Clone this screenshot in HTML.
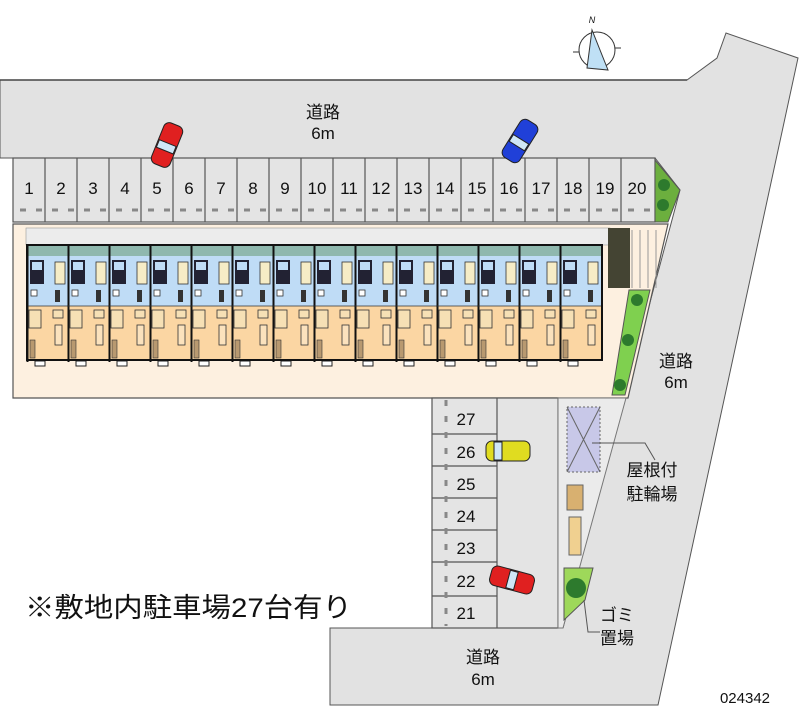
<!DOCTYPE html>
<html><head><meta charset="utf-8"><style>
html,body{margin:0;padding:0;background:#fff}
svg{display:block}
text{font-family:"Liberation Sans","Noto Sans CJK JP",sans-serif;fill:#111}
</style></head><body>
<svg width="800" height="727" viewBox="0 0 800 727" xmlns="http://www.w3.org/2000/svg">
<defs>
<g id="u">
  <rect x="0" y="245" width="41" height="11" fill="#8fb8ae"/>
  <rect x="0" y="256" width="41" height="50" fill="#bfdcf6"/>
  <rect x="0" y="306" width="41" height="54" fill="#fbd6a3"/>
  <rect x="3" y="260" width="14" height="24" fill="#223"/>
  <rect x="5" y="262" width="10" height="8" fill="#bfdcf6"/>
  <rect x="28" y="262" width="10" height="22" fill="#f6ecc6" stroke="#333" stroke-width="0.8"/>
  <rect x="4" y="290" width="6" height="6" fill="#fff" stroke="#333" stroke-width="0.8"/>
  <rect x="28" y="290" width="5" height="12" fill="#333"/>
  <rect x="2" y="310" width="12" height="18" fill="#f6e0b5" stroke="#333" stroke-width="0.8"/>
  <rect x="26" y="310" width="10" height="8" fill="#f6e0b5" stroke="#333" stroke-width="0.8"/>
  <rect x="28" y="325" width="7" height="20" fill="#fbe2bd" stroke="#333" stroke-width="0.8"/>
  <rect x="3" y="340" width="5" height="18" fill="#b89970" stroke="#333" stroke-width="0.6"/>
  <rect x="8" y="361" width="10" height="5" fill="#fff" stroke="#222" stroke-width="1"/>
  <line x1="0.5" y1="245" x2="0.5" y2="362" stroke="#111" stroke-width="2"/>
  <line x1="0" y1="306" x2="41" y2="306" stroke="#333" stroke-width="0.8"/>
</g>
<g id="car">
  <rect x="-22" y="-10" width="44" height="20" rx="6"/>
</g>
</defs>

<!-- roads -->
<polygon points="0,80 687,80 717,58 726,33 798,58 658,705 330,705 330,628 563,628 680,190 655,158 13,158 0,158" fill="#e2e2e2" stroke="#555" stroke-width="1"/>
<line x1="0" y1="80" x2="687" y2="80" stroke="#444" stroke-width="1.5"/>

<!-- upper parking -->
<rect x="13" y="158" width="642" height="64" fill="#e4e4e4" stroke="#555" stroke-width="1.2"/>
<g stroke="#555" stroke-width="1.2">
<line x1="45" y1="158" x2="45" y2="222"/><line x1="77" y1="158" x2="77" y2="222"/><line x1="109" y1="158" x2="109" y2="222"/><line x1="141" y1="158" x2="141" y2="222"/><line x1="173" y1="158" x2="173" y2="222"/><line x1="205" y1="158" x2="205" y2="222"/><line x1="237" y1="158" x2="237" y2="222"/><line x1="269" y1="158" x2="269" y2="222"/><line x1="301" y1="158" x2="301" y2="222"/><line x1="333" y1="158" x2="333" y2="222"/><line x1="365" y1="158" x2="365" y2="222"/><line x1="397" y1="158" x2="397" y2="222"/><line x1="429" y1="158" x2="429" y2="222"/><line x1="461" y1="158" x2="461" y2="222"/><line x1="493" y1="158" x2="493" y2="222"/><line x1="525" y1="158" x2="525" y2="222"/><line x1="557" y1="158" x2="557" y2="222"/><line x1="589" y1="158" x2="589" y2="222"/><line x1="621" y1="158" x2="621" y2="222"/>
</g>
<line x1="20" y1="210" x2="650" y2="210" stroke="#888" stroke-width="3" stroke-dasharray="6,10"/>
<g font-size="17" text-anchor="middle">
<text x="29" y="194">1</text><text x="61" y="194">2</text><text x="93" y="194">3</text><text x="125" y="194">4</text><text x="157" y="194">5</text><text x="189" y="194">6</text><text x="221" y="194">7</text><text x="253" y="194">8</text><text x="285" y="194">9</text><text x="317" y="194">10</text><text x="349" y="194">11</text><text x="381" y="194">12</text><text x="413" y="194">13</text><text x="445" y="194">14</text><text x="477" y="194">15</text><text x="509" y="194">16</text><text x="541" y="194">17</text><text x="573" y="194">18</text><text x="605" y="194">19</text><text x="637" y="194">20</text>
</g>
<polygon points="655,160 680,190 668,222 655,222" fill="#6caf3e" stroke="#555"/>
<circle cx="664" cy="185" r="6" fill="#2d7a2d"/><circle cx="663" cy="205" r="6" fill="#2d7a2d"/>

<!-- building lot -->
<polygon points="13,224 668,224 628,398 13,398" fill="#fdf0e0" stroke="#555" stroke-width="1.2"/>
<rect x="26" y="228" width="584" height="17" fill="#ececec" stroke="#999" stroke-width="0.6"/>
<rect x="608" y="228" width="22" height="60" fill="#443"/>
<g stroke="#999"><line x1="632" y1="230" x2="632" y2="288"/><line x1="640" y1="230" x2="640" y2="288"/><line x1="648" y1="230" x2="648" y2="288"/><line x1="656" y1="230" x2="656" y2="288"/></g>
<g>
<use href="#u" x="27"/><use href="#u" x="68"/><use href="#u" x="109"/><use href="#u" x="150"/><use href="#u" x="191"/><use href="#u" x="232"/><use href="#u" x="273"/><use href="#u" x="314"/><use href="#u" x="355"/><use href="#u" x="396"/><use href="#u" x="437"/><use href="#u" x="478"/><use href="#u" x="519"/><use href="#u" x="560"/>
</g>
<rect x="27" y="245" width="575" height="115" fill="none" stroke="#111" stroke-width="2"/>
<polygon points="629,290 650,290 625,395 612,395" fill="#7fd04f" stroke="#555"/>
<circle cx="637" cy="300" r="6" fill="#2d7a2d"/><circle cx="628" cy="340" r="6" fill="#2d7a2d"/><circle cx="620" cy="385" r="6" fill="#2d7a2d"/>

<!-- lower parking -->
<rect x="432" y="398" width="126" height="230" fill="#e4e4e4" stroke="#555" stroke-width="1.2"/>
<line x1="497" y1="398" x2="497" y2="628" stroke="#555" stroke-width="1.2"/>
<g stroke="#555" stroke-width="1.2">
<line x1="432" y1="434" x2="497" y2="434"/><line x1="432" y1="466" x2="497" y2="466"/><line x1="432" y1="498" x2="497" y2="498"/><line x1="432" y1="530" x2="497" y2="530"/><line x1="432" y1="562" x2="497" y2="562"/><line x1="432" y1="596" x2="497" y2="596"/>
</g>
<line x1="446" y1="400" x2="446" y2="626" stroke="#888" stroke-width="3" stroke-dasharray="6,10"/>
<g font-size="17" text-anchor="middle">
<text x="466" y="425">27</text><text x="466" y="458">26</text><text x="466" y="490">25</text><text x="466" y="522">24</text><text x="466" y="554">23</text><text x="466" y="587">22</text><text x="466" y="619">21</text>
</g>
<polygon points="558,398 626,398 563,628 558,628" fill="#ebebeb" stroke="#777"/>
<rect x="567" y="407" width="33" height="65" fill="#c8c8e8" stroke="#666" stroke-dasharray="2,2"/>
<line x1="567" y1="407" x2="600" y2="472" stroke="#666"/><line x1="600" y1="407" x2="567" y2="472" stroke="#666"/>
<rect x="567" y="485" width="16" height="25" fill="#d8b070" stroke="#666"/>
<rect x="569" y="517" width="12" height="38" fill="#f0d090" stroke="#666"/>
<polygon points="564,568 593,568 585,600 564,620" fill="#9ed85a" stroke="#555"/>
<circle cx="576" cy="588" r="10" fill="#2d7a2d"/>

<!-- leader lines -->
<polyline points="592,443 645,443 655,460" fill="none" stroke="#555"/>
<polyline points="584,600 588,632 600,632" fill="none" stroke="#555"/>

<!-- cars -->
<g transform="translate(167,145) rotate(-68)" fill="#e02020" stroke="#222"><use href="#car"/><rect x="-6" y="-9" width="8" height="18" fill="#cfe7f7"/></g>
<g transform="translate(520,141) rotate(-58)" fill="#2040d8" stroke="#222"><use href="#car"/><rect x="-6" y="-9" width="8" height="18" fill="#cfe7f7"/></g>
<g transform="translate(508,451)" fill="#e0dc20" stroke="#222"><use href="#car"/><rect x="-14" y="-9" width="8" height="18" fill="#cfe7f7"/></g>
<g transform="translate(512,580) rotate(15)" fill="#e02020" stroke="#222"><use href="#car"/><rect x="-4" y="-9" width="8" height="18" fill="#cfe7f7"/></g>

<!-- compass -->
<g stroke="#333" fill="none">
<circle cx="597" cy="50" r="18"/>
<line x1="573" y1="52" x2="579" y2="52"/><line x1="615" y1="48" x2="621" y2="48"/>
<polygon points="592,30 587,68 608,70" fill="#bfe0f5"/>
</g>
<text x="592" y="23" font-size="9" font-style="italic" text-anchor="middle">N</text>

<!-- labels -->
<g font-size="17" text-anchor="middle">
<text x="323" y="118">道路</text><text x="323" y="139">6m</text>
<text x="676" y="367">道路</text><text x="676" y="388">6m</text>
<text x="483" y="663">道路</text><text x="483" y="685">6m</text>
<text x="652" y="476">屋根付</text><text x="652" y="500">駐輪場</text>
<text x="617" y="621">ゴミ</text><text x="617" y="644">置場</text>
</g>
<text x="25" y="617" font-size="27" textLength="327" lengthAdjust="spacingAndGlyphs">※敷地内駐車場27台有り</text>
<text x="745" y="703" font-size="15" text-anchor="middle">024342</text>
</svg>
</body></html>
